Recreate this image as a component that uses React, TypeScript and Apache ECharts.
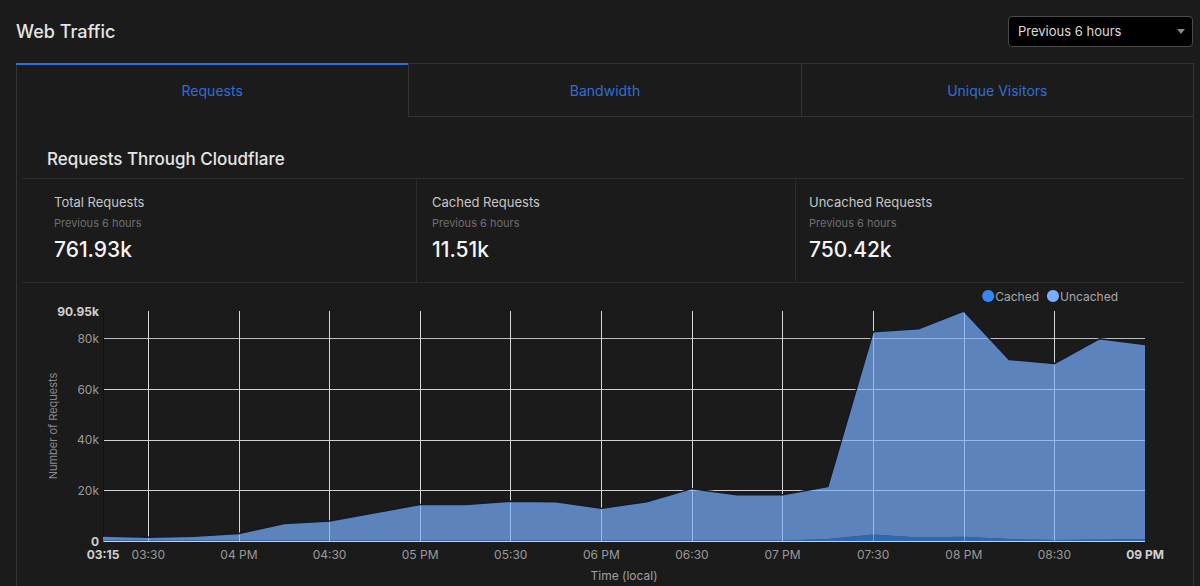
import React, { useEffect, useRef } from "react";
import * as echarts from "echarts";

const timeLabels = [
  "03:15", "03:30", "03:45", "04 PM", "04:15", "04:30", "04:45", "05 PM",
  "05:15", "05:30", "05:45", "06 PM", "06:15", "06:30", "06:45", "07 PM",
  "07:15", "07:30", "07:45", "08 PM", "08:15", "08:30", "08:45", "09 PM",
];
const cachedValues = [
  150, 150, 150, 150, 150, 150, 150, 150, 150, 150, 150, 150, 150, 150, 150, 150,
  800, 2600, 1400, 1700, 800, 400, 600, 800,
];
const uncachedValues = [
  1850, 1350, 1750, 2850, 6750, 7750, 11050, 14250, 14250, 15550, 15350, 12750,
  15350, 20550, 18150, 18150, 20700, 80100, 82500, 89250, 71000, 69800, 79400, 76900,
];
const yMax = 90950;
const yTickInterval = 20000;
const seriesNames = ["Cached", "Uncached"];
const seriesColors = ["#3a86f0", "#78afff"];
const tabs = ["Requests", "Bandwidth", "Unique Visitors"];
const stats = [
  { label: "Total Requests", sub: "Previous 6 hours", value: "761.93k" },
  { label: "Cached Requests", sub: "Previous 6 hours", value: "11.51k" },
  { label: "Uncached Requests", sub: "Previous 6 hours", value: "750.42k" },
];

const FONT = "Inter, Roboto, 'Noto Sans', sans-serif";

function Chart() {
  const ref = useRef<HTMLDivElement>(null);
  useEffect(() => {
    if (!ref.current) return;
    const chart = echarts.init(ref.current, null, { renderer: "svg" });
    const last = timeLabels.length - 1;
    chart.setOption({
      animation: false,
      backgroundColor: "transparent",
      textStyle: { fontFamily: FONT },
      legend: {
        data: seriesNames,
        icon: "circle",
        itemWidth: 12,
        itemHeight: 12,
        itemGap: 8,
        right: 62,
        top: 2,
        textStyle: { color: "#a8a8a8", fontSize: 12, padding: [0, 0, 0, -4] },
      },
      grid: { left: 78, right: 40, top: 28, bottom: 40 },
      xAxis: {
        type: "category",
        data: timeLabels,
        boundaryGap: false,
        name: "Time (local)",
        nameLocation: "middle",
        nameGap: 28,
        nameMoveOverlap: false,
        nameTextStyle: { color: "#a0a0a0", fontSize: 12 },
        axisLine: { show: false },
        axisTick: { show: false },
        axisLabel: {
          interval: (i: number) => i === 0 || i === last || i % 2 === 1,
          color: "#9a9a9a",
          fontSize: 12,
          margin: 7,
          formatter: (v: string, i: number) =>
            i === 0 || i === last ? `{b|${v}}` : v,
          rich: { b: { color: "#d0d0d0", fontWeight: "bold", fontSize: 12 } },
        },
        splitLine: {
          show: true,
          interval: (i: number) => i % 2 === 1 && i < last,
          lineStyle: { color: "#d8d8d8", width: 1 },
        },
      },
      yAxis: {
        type: "value",
        min: 0,
        max: yMax,
        interval: yTickInterval,
        name: "Number of Requests",
        nameLocation: "middle",
        nameGap: 45,
        nameMoveOverlap: false,
        nameTextStyle: { color: "#8a8a8a", fontSize: 11 },
        axisLine: { show: true, lineStyle: { color: "#111111" } },
        axisTick: { show: false },
        axisLabel: {
          color: "#9a9a9a",
          fontSize: 12,
          margin: 4,
          verticalAlign: "middle",
          formatter: (v: number) =>
            v === 0
              ? "{b|0}"
              : v === yMax
              ? `{b|${(v / 1000).toFixed(2)}k}`
              : `${v / 1000}k`,
          rich: { b: { color: "#d0d0d0", fontWeight: "bold", fontSize: 12 } },
        },
        splitLine: {
          show: true,
          lineStyle: {
            color: ["#cfcfcf", "#cfcfcf", "#cfcfcf", "#cfcfcf", "#bdbdbd", "rgba(0,0,0,0)"],
            width: 1,
          },
        },
      },
      series: [
        {
          name: seriesNames[0],
          type: "line",
          stack: "total",
          data: cachedValues,
          symbol: "none",
          itemStyle: { color: seriesColors[0] },
          lineStyle: { width: 0 },
          areaStyle: { color: seriesColors[0], opacity: 0.7 },
        },
        {
          name: seriesNames[1],
          type: "line",
          stack: "total",
          data: uncachedValues,
          symbol: "none",
          itemStyle: { color: seriesColors[1] },
          lineStyle: { width: 1.5, color: "#0e1b2e" },
          areaStyle: { color: seriesColors[1], opacity: 0.7 },
        },
      ],
    });
    return () => chart.dispose();
  }, []);
  return (
    <div
      ref={ref}
      style={{ position: "absolute", left: 25, top: 283, width: 1160, height: 303 }}
    />
  );
}

const abs = (o: React.CSSProperties): React.CSSProperties => ({ position: "absolute", ...o });

export default function App() {
  const tabW = 1177 / 3;
  return (
    <div
      style={{
        position: "fixed",
        left: 0,
        top: 0,
        width: 1200,
        height: 586,
        background: "#1b1b1b",
        fontFamily: FONT,
        overflow: "hidden",
      }}
    >
      <div style={abs({ left: 16, top: 21, lineHeight: "22px", fontSize: 18, fontWeight: 500, color: "#e4e4e4" })}>
        Web Traffic
      </div>
      <div
        style={abs({
          left: 1008,
          top: 16,
          width: 183,
          height: 29,
          background: "#000",
          border: "1px solid #4a4a4a",
          borderRadius: 4,
        })}
      >
        <div style={abs({ left: 9, top: 0, lineHeight: "29px", fontSize: 13, color: "#dcdcdc" })}>
          Previous 6 hours
        </div>
        <div
          style={abs({
            left: 168,
            top: 12,
            width: 0,
            height: 0,
            borderLeft: "4px solid transparent",
            borderRight: "4px solid transparent",
            borderTop: "5px solid #8a8a8a",
          })}
        />
      </div>
      {/* outer panel borders */}
      <div style={abs({ left: 16, top: 63, width: 0, height: 540, borderLeft: "1px solid #333" })} />
      <div style={abs({ left: 1193, top: 63, width: 0, height: 540, borderLeft: "1px solid #333" })} />
      {tabs.map((t, i) => {
        const active = i === 0;
        return (
          <div
            key={t}
            style={abs({
              left: 16 + i * tabW,
              top: 63,
              width: tabW,
              height: 54,
              boxSizing: "border-box",
              borderTop: active ? "2px solid #2d6fd8" : "1px solid #333",
              borderLeft: i > 0 ? "1px solid #333" : "none",
              borderBottom: active ? "none" : "1px solid #333",
              color: "#2f6fd8",
              fontSize: 14,
              textAlign: "center",
              lineHeight: active ? "52px" : "53px",
            })}
          >
            {t}
          </div>
        );
      })}
      <div style={abs({ left: 47, top: 148, lineHeight: "22px", fontSize: 17, fontWeight: 500, color: "#e6e6e6" })}>
        Requests Through Cloudflare
      </div>
      <div style={abs({ left: 22, top: 178, width: 1163, height: 0, borderTop: "1px solid #2c2c2c" })} />
      <div style={abs({ left: 22, top: 282, width: 1163, height: 0, borderTop: "1px solid #2c2c2c" })} />
      <div style={abs({ left: 416, top: 178, width: 0, height: 104, borderLeft: "1px solid #2c2c2c" })} />
      <div style={abs({ left: 795, top: 178, width: 0, height: 104, borderLeft: "1px solid #2c2c2c" })} />
      {stats.map((s, i) => {
        const x = [54, 432, 809][i];
        return (
          <React.Fragment key={s.label}>
            <div style={abs({ left: x, top: 194, lineHeight: "16px", fontSize: 13, color: "#c6c6c6" })}>{s.label}</div>
            <div style={abs({ left: x, top: 216, lineHeight: "14px", fontSize: 11, color: "#6e6e6e" })}>{s.sub}</div>
            <div style={abs({ left: x, top: 237, lineHeight: "26px", fontSize: 21, fontWeight: 500, color: "#f4f4f4" })}>
              {s.value}
            </div>
          </React.Fragment>
        );
      })}
      <Chart />
    </div>
  );
}
